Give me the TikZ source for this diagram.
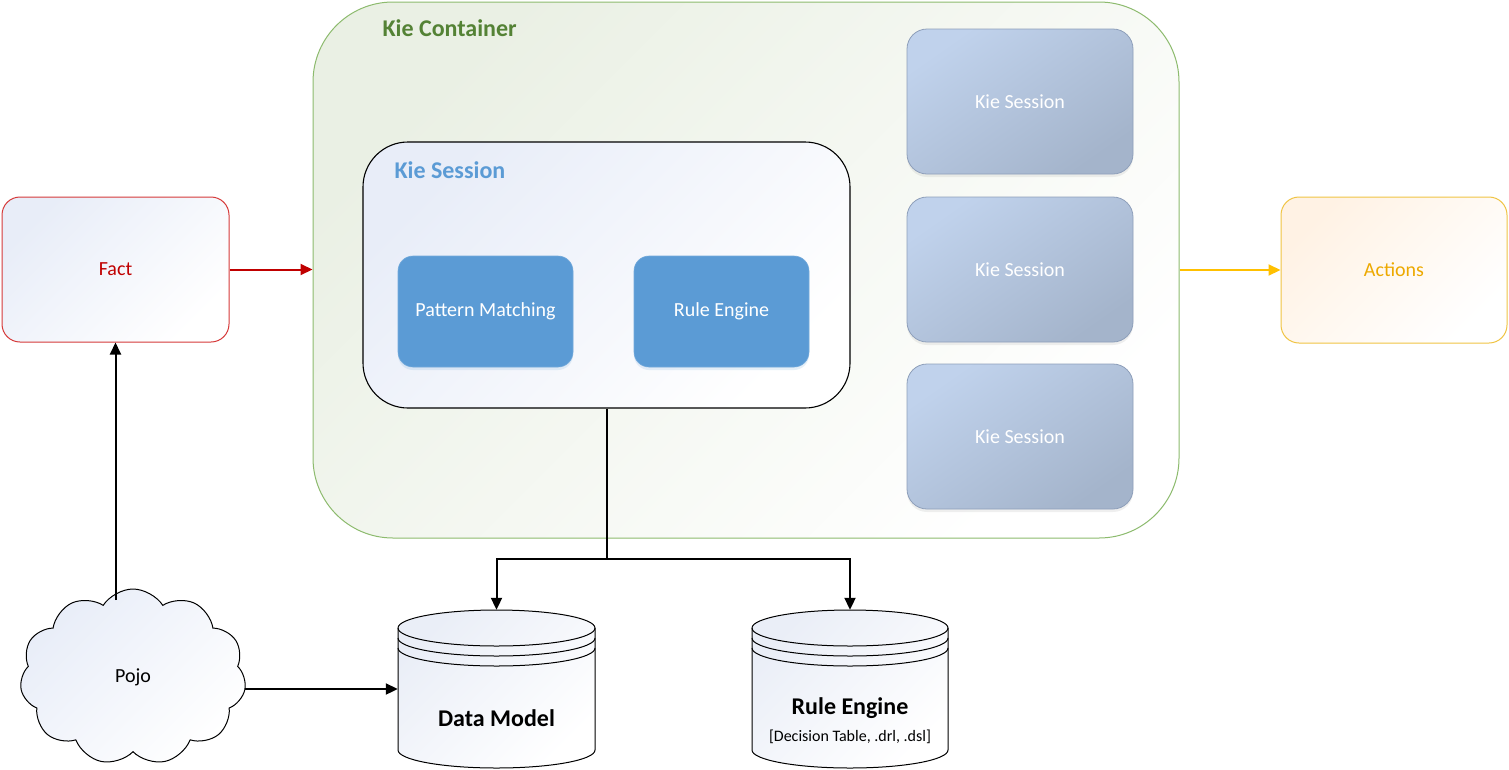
\documentclass[tikz,border=0pt]{standalone}
\usepackage{fontspec}
\setmainfont{Carlito}
\usetikzlibrary{shapes.symbols,arrows.meta,shadows,calc}
\definecolor{contgreen}{HTML}{8DBB6E}
\definecolor{contfill}{HTML}{EAF0E4}
\definecolor{titlegreen}{HTML}{548235}
\definecolor{sessblue}{HTML}{5B9BD5}
\definecolor{sessfill}{HTML}{E8EDF8}
\definecolor{innerblue}{HTML}{5B9BD5}
\definecolor{slateA}{HTML}{C0D2EC}
\definecolor{slateB}{HTML}{A8B8CF}
\definecolor{slateC}{HTML}{A4B4CB}
\definecolor{slateline}{HTML}{8E9FBA}
\definecolor{factred}{HTML}{C00000}
\definecolor{factline}{HTML}{D63A3A}
\definecolor{actgold}{HTML}{EDA900}
\definecolor{actline}{HTML}{F0C444}
\definecolor{actfill}{HTML}{FFF2E4}
\definecolor{arrgold}{HTML}{FFC000}
\definecolor{cylfill}{HTML}{EAEEF7}
\begin{document}
\begin{tikzpicture}[x=1pt,y=-1pt,
  lbl/.style={font=\fontsize{20}{24}\selectfont},
  ttl/.style={font=\fontsize{24}{28}\selectfont\bfseries},
  arr/.style={line width=2pt,-{Triangle[length=12pt,width=11pt]}},
  sidebox/.style={rounded corners=20pt, minimum width=226pt, minimum height=145pt, inner sep=0pt, line width=1pt, align=center},
  slatebox/.style={sidebox, draw=slateline, line width=0.8pt, top color=slateA, middle color=slateB, bottom color=slateC, shading angle=35, text=white, lbl,
     drop shadow={opacity=0.12, shadow xshift=0pt, shadow yshift=-3pt}},
  bluebox/.style={rounded corners=15pt, minimum width=175pt, minimum height=111pt, inner sep=0pt, fill=innerblue, draw=innerblue!85!white, line width=0.6pt, text=white, lbl,
     drop shadow={opacity=0.15, fill=innerblue, shadow xshift=0pt, shadow yshift=-3pt}},
  cylbody/.style={draw=black, line width=1pt, top color=cylfill, bottom color=white, shading angle=45},
]
\useasboundingbox (0,0) rectangle (1509,769);
\fill[white] (0,0) rectangle (1509,769);

% Kie Container
\node[rounded corners=80pt, minimum width=866pt, minimum height=536pt, inner sep=0pt,
      draw=contgreen, line width=1pt, top color=contfill, middle color=white!55!contfill, bottom color=white, shading angle=45]
      (cont) at (746,270) {};
\node[ttl, text=titlegreen, anchor=west] (conttitle) at (379,28) {Kie Container};

% Kie Session (main)
\node[rounded corners=45pt, minimum width=487pt, minimum height=266pt, inner sep=0pt,
      draw=black, line width=1.1pt, top color=sessfill, middle color=white!60!sessfill, bottom color=white, shading angle=45]
      (sess) at (606.5,275) {};
\node[ttl, text=sessblue, anchor=west] (sesstitle) at (391,170) {Kie Session};

\node[bluebox] (pm) at (485.5,311.5) {Pattern Matching};
\node[bluebox] (reb) at (721.5,311.5) {Rule Engine};

% right sessions
\node[slatebox] (s1) at (1020,101.5) {Kie Session};
\node[slatebox] (s2) at (1020,269.5) {Kie Session};
\node[slatebox] (s3) at (1020,436.5) {Kie Session};

% Fact & Actions
\node[sidebox, rounded corners=18pt, minimum width=227pt, draw=factline, top color=sessfill, bottom color=white, shading angle=45, text=factred, lbl] (fact) at (115.5,269.5) {Fact};
\node[sidebox, rounded corners=18pt, minimum height=146pt, draw=actline, top color=actfill, bottom color=white, shading angle=45, text=actgold, lbl] (act) at (1394,270) {Actions};

% Cylinders
\foreach \xa/\xb in {398/595, 752/948}{
  \pgfmathsetmacro{\rx}{(\xb-\xa)/2}
  \path[cylbody] (\xa,628) -- (\xa,750) arc[start angle=180, end angle=0, x radius=\rx, y radius=18]
     -- (\xb,628) arc[start angle=0, end angle=-180, x radius=\rx, y radius=18] -- cycle;
  \draw[line width=1pt] (\xa,628) arc[start angle=180, end angle=0, x radius=\rx, y radius=18];
  \draw[line width=1pt] (\xa,638) arc[start angle=180, end angle=0, x radius=\rx, y radius=18];
  \draw[line width=1pt] (\xa,648) arc[start angle=180, end angle=0, x radius=\rx, y radius=18];
}
\node[minimum width=197pt, minimum height=158pt, inner sep=0pt] (dm) at (496.5,689) {};
\node[minimum width=196pt, minimum height=158pt, inner sep=0pt] (rec) at (850,689) {};
\node[font=\fontsize{24}{28}\selectfont\bfseries] (dmtext) at (496.5,718) {Data Model};
\node[font=\fontsize{24}{28}\selectfont\bfseries] (retext) at (850,708) {Rule Engine};
\node[font=\fontsize{16}{19}\selectfont] (resub) at (850,737) {[Decision Table, .drl, .dsl]};

% Pojo cloud
\node[cloud, cloud puffs=11, cloud puff arc=115, aspect=1.3, minimum width=226pt, minimum height=176pt,
      draw=black, line width=1pt, top color=sessfill, bottom color=white, shading angle=45, inner sep=0pt, lbl] (pojo) at (133,677) {Pojo};

% connectors
\draw[arr, factred] (fact.east) -- (fact.east -| cont.west);
\draw[arr, arrgold] (cont.east |- act.west) -- (act.west);
\coordinate (br) at (606.5,559);
\draw[line width=2pt] (sess.south) -- (br);
\draw[arr] (br) -| (dm.north);
\draw[arr] (br) -| (rec.north);
\coordinate (ptop) at (115.5,600);
\draw[arr] (ptop) -- (fact.south);
\draw[arr] (pojo.east |- dm.west) -- (dm.west);
\end{tikzpicture}
\end{document}
